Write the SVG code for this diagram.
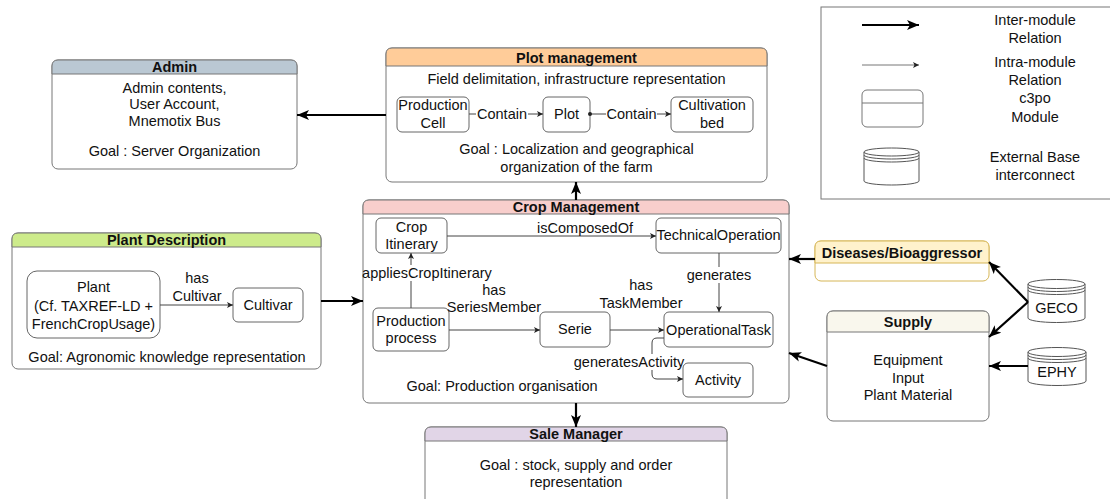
<svg xmlns="http://www.w3.org/2000/svg" width="1110" height="499" viewBox="0 0 1110 499">
<defs>
<style>
text{font-family:"Liberation Sans",Arial,sans-serif;font-size:14.5px;fill:#111;text-anchor:middle;dominant-baseline:central}
.t{font-weight:bold;font-size:14.5px}
.box{fill:#fff;stroke:#666;stroke-width:1}
.mod{fill:#fff;stroke:#777;stroke-width:1}
.thick{fill:none;stroke:#000;stroke-width:2.2}
.thin{fill:none;stroke:#444;stroke-width:1}
.bg{fill:#fff}
.cyl{fill:#fff;stroke:#555;stroke-width:1}
</style>
<marker id="big" markerUnits="userSpaceOnUse" markerWidth="14" markerHeight="12" refX="12" refY="5" orient="auto">
<path d="M0,0 L12,5 L0,10 L3,5 Z" fill="#000"/>
</marker>
<marker id="small" markerUnits="userSpaceOnUse" markerWidth="8" markerHeight="8" refX="6" refY="3" orient="auto">
<path d="M0,0 L6,3 L0,6 L1.5,3 Z" fill="#222"/>
</marker>
<marker id="dot" markerUnits="userSpaceOnUse" markerWidth="6" markerHeight="6" refX="3" refY="3">
<circle cx="3" cy="3" r="2" fill="#222"/>
</marker>
</defs>
<rect width="1110" height="499" fill="#fff"/>

<g id="legend">
<rect x="821" y="7" width="300" height="192" fill="#fff" stroke="#777"/>
<line x1="862" y1="25" x2="919" y2="25" class="thick" marker-end="url(#big)"/>
<text x="1035" y="20">Inter-module</text>
<text x="1035" y="38">Relation</text>
<line x1="862" y1="65" x2="919" y2="65" stroke="#777" stroke-width="1" marker-end="url(#small)"/>
<text x="1035" y="62">Intra-module</text>
<text x="1035" y="80">Relation</text>
<rect x="862" y="90" width="61" height="37" rx="5" class="mod"/>
<line x1="862" y1="103" x2="923" y2="103" stroke="#777"/>
<text x="1035" y="98">c3po</text>
<text x="1035" y="117">Module</text>
<path class="cyl" d="M864,152 A27.5,4 0 0 1 919,152 V181 A27.5,4 0 0 1 864,181 Z M864,152 A27.5,4 0 0 0 919,152 M864,155 A27.5,4 0 0 0 919,155 M864,158 A27.5,4 0 0 0 919,158"/>
<text x="1035" y="157">External Base</text>
<text x="1035" y="175">interconnect</text>
</g>

<g id="admin">
<rect x="52" y="60" width="245" height="109" rx="6" class="mod"/>
<path d="M52,74 V66 Q52,60 58,60 H291 Q297,60 297,66 V74 Z" fill="#bac8d3" stroke="#777"/>
<text x="174.5" y="67" class="t">Admin</text>
<text x="174.5" y="88">Admin contents,</text>
<text x="174.5" y="104">User Account,</text>
<text x="174.5" y="121">Mnemotix Bus</text>
<text x="174.5" y="151">Goal : Server Organization</text>
</g>

<g id="plot-management">
<rect x="386" y="48" width="381" height="134" rx="6" class="mod"/>
<path d="M386,66 V54 Q386,48 392,48 H761 Q767,48 767,54 V66 Z" fill="#ffcc99" stroke="#777"/>
<text x="576.5" y="58" class="t">Plot management</text>
<text x="576.5" y="79">Field delimitation, infrastructure representation</text>
<text x="576.5" y="149">Goal : Localization and geographical</text>
<text x="576.5" y="167">organization of the farm</text>
</g>
<g id="production-cell">
<rect x="397" y="97" width="72" height="35" rx="5" class="box"/>
<text x="433" y="105">Production</text>
<text x="433" y="123">Cell</text>
</g>
<g id="plot">
<rect x="543" y="97" width="47" height="35" rx="5" class="box"/>
<text x="566.5" y="114">Plot</text>
</g>
<g id="cultivation-bed">
<rect x="671" y="97" width="82" height="35" rx="5" class="box"/>
<text x="712" y="105">Cultivation</text>
<text x="712" y="123">bed</text>
</g>

<g id="plant-description">
<rect x="12" y="233" width="309" height="136" rx="6" class="mod"/>
<path d="M12,247 V239 Q12,233 18,233 H315 Q321,233 321,239 V247 Z" fill="#cdeb8b" stroke="#777"/>
<text x="166.5" y="240" class="t">Plant Description</text>
<text x="167" y="357">Goal: Agronomic knowledge representation</text>
</g>
<g id="plant">
<rect x="27" y="271" width="133" height="67" rx="10" class="box"/>
<text x="93.5" y="287">Plant</text>
<text x="93.5" y="306">(Cf. TAXREF-LD +</text>
<text x="93.5" y="324">FrenchCropUsage)</text>
</g>
<g id="cultivar">
<rect x="233" y="288" width="70" height="34" rx="5" class="box"/>
<text x="268" y="305">Cultivar</text>
</g>

<g id="crop-management">
<rect x="363" y="200" width="426" height="203" rx="6" class="mod"/>
<path d="M363,214 V206 Q363,200 369,200 H783 Q789,200 789,206 V214 Z" fill="#f8cecc" stroke="#777"/>
<text x="576" y="207" class="t">Crop Management</text>
<text x="502" y="386">Goal: Production organisation</text>
</g>
<g id="crop-itinerary">
<rect x="376" y="218" width="71" height="35" rx="5" class="box"/>
<text x="411.5" y="227">Crop</text>
<text x="411.5" y="244">Itinerary</text>
</g>
<g id="technical-operation">
<rect x="656" y="218" width="125" height="35" rx="5" class="box"/>
<text x="718.5" y="235">TechnicalOperation</text>
</g>
<g id="production-process">
<rect x="373" y="308" width="76" height="43" rx="5" class="box"/>
<text x="411" y="321">Production</text>
<text x="411" y="338">process</text>
</g>
<g id="serie">
<rect x="540" y="312" width="70" height="35" rx="5" class="box"/>
<text x="575" y="329">Serie</text>
</g>
<g id="operational-task">
<rect x="664" y="312" width="109" height="35" rx="5" class="box"/>
<text x="718.5" y="330">OperationalTask</text>
</g>
<g id="activity">
<rect x="683" y="363" width="70" height="34" rx="5" class="box"/>
<text x="718" y="380">Activity</text>
</g>

<g id="sale-manager">
<rect x="425" y="427" width="302" height="90" rx="6" class="mod"/>
<path d="M425,441 V433 Q425,427 431,427 H721 Q727,427 727,433 V441 Z" fill="#e1d5e7" stroke="#777"/>
<text x="576" y="434" class="t">Sale Manager</text>
<text x="576" y="465">Goal : stock, supply and order</text>
<text x="576" y="482">representation</text>
</g>

<g id="diseases-bioaggressor">
<rect x="815" y="241" width="174" height="40" rx="6" fill="#fff" stroke="#d6b656"/>
<path d="M815,263 V247 Q815,241 821,241 H983 Q989,241 989,247 V263 Z" fill="#fff2cc" stroke="#d6b656"/>
<text x="902" y="253" class="t">Diseases/Bioaggressor</text>
</g>

<g id="supply">
<rect x="827" y="311" width="162" height="110" rx="6" class="mod"/>
<path d="M827,332 V317 Q827,311 833,311 H983 Q989,311 989,317 V332 Z" fill="#f9f7ed" stroke="#777"/>
<text x="908" y="322" class="t">Supply</text>
<text x="908" y="360">Equipment</text>
<text x="908" y="378">Input</text>
<text x="908" y="395">Plant Material</text>
</g>

<g id="geco">
<path class="cyl" d="M1028,284 A28.5,4.5 0 0 1 1085,284 V318 A28.5,4.5 0 0 1 1028,318 Z M1028,284 A28.5,4.5 0 0 0 1085,284 M1028,287 A28.5,4.5 0 0 0 1085,287 M1028,290 A28.5,4.5 0 0 0 1085,290"/>
<text x="1056.5" y="308">GECO</text>
</g>
<g id="ephy">
<path class="cyl" d="M1028,352 A29,4.5 0 0 1 1086,352 V381 A29,4.5 0 0 1 1028,381 Z M1028,352 A29,4.5 0 0 0 1086,352 M1028,355 A29,4.5 0 0 0 1086,355 M1028,358 A29,4.5 0 0 0 1086,358"/>
<text x="1057" y="372">EPHY</text>
</g>

<g id="connectors">
<line x1="386" y1="115" x2="297" y2="115" class="thick" marker-end="url(#big)"/>
<line x1="576" y1="200" x2="576" y2="182" class="thick" marker-end="url(#big)"/>
<line x1="576" y1="403" x2="576" y2="427" class="thick" marker-end="url(#big)"/>
<line x1="321" y1="301" x2="363" y2="301" class="thick" marker-end="url(#big)"/>
<line x1="815" y1="259" x2="789" y2="259" class="thick" marker-end="url(#big)"/>
<line x1="827" y1="366" x2="789" y2="353" class="thick" marker-end="url(#big)"/>
<line x1="1028" y1="302" x2="989" y2="262" class="thick" marker-end="url(#big)"/>
<line x1="1028" y1="302" x2="989" y2="337" class="thick" marker-end="url(#big)"/>
<line x1="1028" y1="366" x2="989" y2="366" class="thick" marker-end="url(#big)"/>

<line x1="469" y1="114" x2="543" y2="114" class="thin" marker-end="url(#small)"/>
<rect x="476" y="106" width="52" height="16" class="bg"/>
<text x="502" y="114">Contain</text>
<line x1="590" y1="114" x2="671" y2="114" class="thin" marker-start="url(#dot)" marker-end="url(#small)"/>
<rect x="606" y="106" width="51" height="16" class="bg"/>
<text x="631.5" y="114">Contain</text>

<line x1="160" y1="305" x2="233" y2="305" class="thin" marker-end="url(#small)"/>
<text x="197" y="278">has</text>
<text x="197" y="296">Cultivar</text>

<line x1="447" y1="236" x2="656" y2="236" class="thin" marker-end="url(#small)"/>
<text x="585" y="228">isComposedOf</text>
<line x1="411" y1="308" x2="411" y2="253" class="thin" marker-end="url(#small)"/>
<rect x="366" y="265" width="122" height="16" class="bg"/>
<text x="427" y="273">appliesCropItinerary</text>
<line x1="449" y1="330" x2="540" y2="330" class="thin" marker-end="url(#small)"/>
<text x="494" y="290">has</text>
<text x="494" y="307">SeriesMember</text>
<line x1="610" y1="330" x2="664" y2="330" class="thin" marker-end="url(#small)"/>
<text x="641" y="285">has</text>
<text x="641" y="303">TaskMember</text>
<line x1="719" y1="253" x2="719" y2="312" class="thin" marker-end="url(#small)"/>
<rect x="689" y="267" width="61" height="16" class="bg"/>
<text x="719" y="275">generates</text>
<path d="M664,338 H657 Q652,338 652,343 V374 Q652,379 657,379 H683" class="thin" marker-end="url(#small)"/>
<rect x="576" y="354" width="106" height="16" class="bg"/>
<text x="629" y="362">generatesActivity</text>
</g>
</svg>
